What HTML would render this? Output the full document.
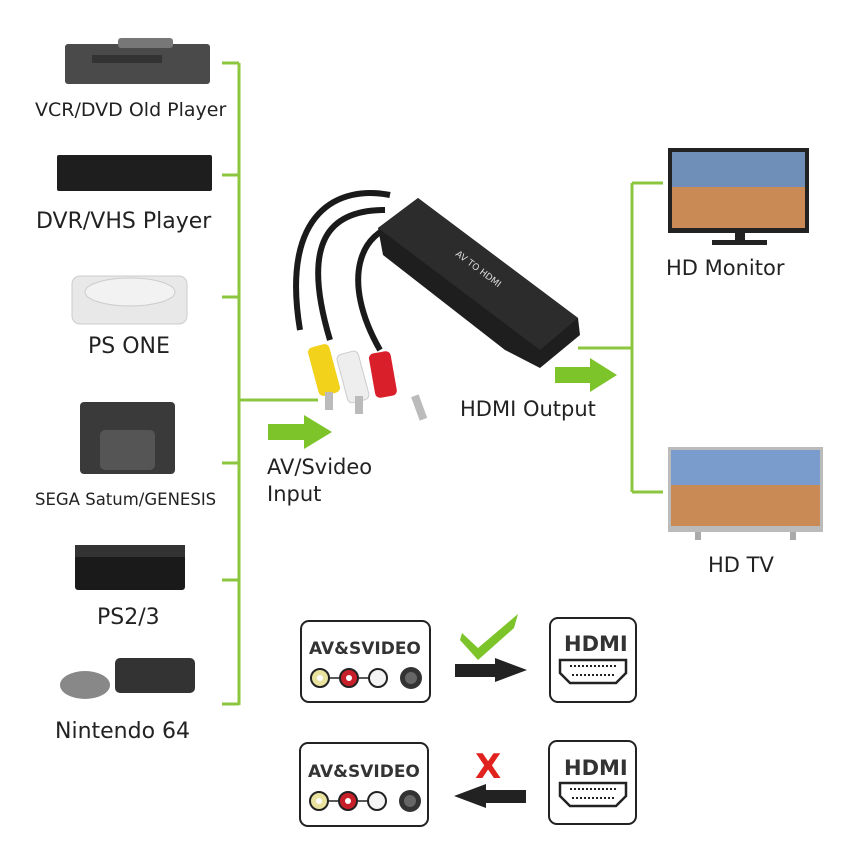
<!DOCTYPE html>
<html><head><meta charset="utf-8"><style>
html,body{margin:0;padding:0;background:#fff;width:860px;height:860px;overflow:hidden}
svg{display:block}
text{font-family:"DejaVu Sans","Liberation Sans",sans-serif;fill:#222}
</style></head><body>
<svg width="860" height="860" viewBox="0 0 860 860">
<g stroke="#8cc63f" stroke-width="3" fill="none">
<line x1="239" y1="63" x2="239" y2="705"/>
<line x1="222" y1="63" x2="239" y2="63"/>
<line x1="222" y1="175" x2="239" y2="175"/>
<line x1="222" y1="297" x2="239" y2="297"/>
<line x1="222" y1="463" x2="239" y2="463"/>
<line x1="222" y1="580" x2="239" y2="580"/>
<line x1="222" y1="704" x2="239" y2="704"/>
<line x1="239" y1="400" x2="318" y2="400"/>
<line x1="632" y1="183" x2="632" y2="492"/>
<line x1="632" y1="183" x2="663" y2="183"/>
<line x1="632" y1="492" x2="663" y2="492"/>
<line x1="578" y1="348" x2="632" y2="348"/>
</g>
<polygon points="268,424 304,424 304,415 332,432 304,449 304,440 268,440" fill="#7dc42a"/>
<polygon points="555,367 590,367 590,358 617,375 590,392 590,383 555,383" fill="#7dc42a"/>
<!-- devices -->
<rect x="65" y="44" width="145" height="40" rx="3" fill="#4a4a4a"/>
<rect x="118" y="38" width="55" height="10" rx="3" fill="#777"/>
<rect x="92" y="55" width="70" height="8" fill="#333"/>
<rect x="57" y="155" width="155" height="36" rx="2" fill="#1e1e1e"/>
<rect x="72" y="276" width="115" height="48" rx="8" fill="#e8e8e8" stroke="#ccc"/>
<ellipse cx="130" cy="292" rx="45" ry="14" fill="#f2f2f2" stroke="#ccc"/>
<rect x="80" y="402" width="95" height="72" rx="4" fill="#3a3a3a"/>
<rect x="100" y="430" width="55" height="40" rx="5" fill="#555"/>
<rect x="75" y="545" width="110" height="45" rx="3" fill="#1a1a1a"/>
<rect x="75" y="545" width="110" height="12" fill="#333"/>
<rect x="115" y="658" width="80" height="35" rx="5" fill="#333"/>
<ellipse cx="85" cy="685" rx="25" ry="14" fill="#888"/>
<!-- labels -->
<text x="35" y="116" font-size="19">VCR/DVD Old Player</text>
<text x="36" y="228" font-size="22">DVR/VHS Player</text>
<text x="88" y="353" font-size="22">PS ONE</text>
<text x="35" y="505" font-size="16.5">SEGA Satum/GENESIS</text>
<text x="97" y="624" font-size="22">PS2/3</text>
<text x="55" y="738" font-size="22">Nintendo 64</text>
<text x="267" y="474" font-size="21">AV/Svideo</text>
<text x="267" y="501" font-size="21">Input</text>
<text x="460" y="416" font-size="21">HDMI Output</text>
<text x="666" y="275" font-size="21">HD Monitor</text>
<text x="708" y="572" font-size="21">HD TV</text>
<!-- converter -->
<g>
<path d="M390,195 C340,185 280,210 300,330 M385,210 C330,210 300,240 330,340 M400,225 C360,230 340,280 380,350" stroke="#1a1a1a" stroke-width="6" fill="none"/>
<polygon points="378,228 418,198 578,318 580,335 540,368 505,350 383,255" fill="#1e1e1e"/>
<polygon points="378,228 418,198 578,318 540,350 " fill="#2c2c2c"/>
<text x="0" y="0" font-size="9" transform="translate(455,255) rotate(37)" style="fill:#ddd">AV TO HDMI</text>
<rect x="313" y="345" width="22" height="50" rx="5" fill="#f2d21b" transform="rotate(-15 324 370)"/>
<rect x="342" y="352" width="22" height="50" rx="5" fill="#eee" stroke="#ccc" transform="rotate(-15 353 377)"/>
<rect x="372" y="352" width="22" height="45" rx="5" fill="#d9202a" transform="rotate(-10 383 375)"/>
<rect x="325" y="392" width="8" height="18" fill="#bbb"/>
<rect x="355" y="396" width="8" height="18" fill="#bbb"/>
<rect x="415" y="395" width="8" height="25" fill="#bbb" transform="rotate(-20 419 407)"/>
</g>
<!-- monitor -->
<rect x="668" y="148" width="141" height="85" fill="#222"/>
<rect x="672" y="152" width="133" height="76" fill="#c98a55"/>
<rect x="672" y="152" width="133" height="35" fill="#6f8fb8"/>
<rect x="735" y="233" width="10" height="8" fill="#222"/>
<rect x="712" y="240" width="55" height="5" fill="#222"/>
<!-- tv -->
<rect x="668" y="447" width="155" height="85" fill="#bbb"/>
<rect x="671" y="450" width="149" height="76" fill="#c98a55"/>
<rect x="671" y="450" width="149" height="35" fill="#7a9ccc"/>
<rect x="695" y="532" width="6" height="8" fill="#aaa"/><rect x="790" y="532" width="6" height="8" fill="#aaa"/>
<!-- bottom -->
<g stroke="#222" stroke-width="2" fill="#fff">
<rect x="301" y="621" width="129" height="81" rx="8"/>
<rect x="550" y="618" width="86" height="84" rx="8"/>
<rect x="300" y="743" width="128" height="83" rx="8"/>
<rect x="549" y="741" width="87" height="83" rx="8"/>
</g>
<g font-weight="bold" font-family="Liberation Sans,sans-serif">
<text x="309" y="654" font-size="17" style="fill:#333">AV&amp;SVIDEO</text>
<text x="308" y="777" font-size="17" style="fill:#333">AV&amp;SVIDEO</text>
<text x="564" y="651" font-size="21" style="fill:#333">HDMI</text>
<text x="564" y="775" font-size="21" style="fill:#333">HDMI</text>
</g>
<g id="jacks">
<line x1="320" y1="678" x2="380" y2="678" stroke="#222" stroke-width="1.5"/>
<circle cx="320" cy="678" r="9" fill="#e8e4a0" stroke="#222" stroke-width="2"/><circle cx="320" cy="678" r="3" fill="#fff"/>
<circle cx="349" cy="678" r="9" fill="#c8202a" stroke="#222" stroke-width="2"/><circle cx="349" cy="678" r="3" fill="#fff"/>
<circle cx="378" cy="678" r="9" fill="#f4f4f4" stroke="#222" stroke-width="2"/>
<circle cx="411" cy="678" r="11" fill="#333"/><circle cx="411" cy="678" r="6" fill="#666"/>
</g>
<use href="#jacks" transform="translate(-1,123)"/>
<g id="hd" fill="none" stroke="#222" stroke-width="2.5">
<path d="M560,660 H626 V673 L616,683 H570 L560,673 Z"/>
<line x1="570" y1="666" x2="616" y2="666" stroke-dasharray="2,2" stroke-width="2"/>
<line x1="572" y1="675" x2="614" y2="675" stroke-dasharray="2,2" stroke-width="2"/>
</g>
<use href="#hd" transform="translate(0,123)"/>
<polygon points="455,664 495,664 495,658 527,670 495,682 495,677 455,677" fill="#222"/>
<polygon points="526,790 486,790 486,784 454,796 486,808 486,803 526,803" fill="#222"/>
<path d="M462,633 L478,648 L518,614 L514,628 L478,660 L460,640 Z" fill="#7dc42a"/>
<text x="475" y="778" font-size="34" font-weight="bold" font-family="Liberation Sans,sans-serif" style="fill:#e0231e">X</text>
</svg>
</body></html>
